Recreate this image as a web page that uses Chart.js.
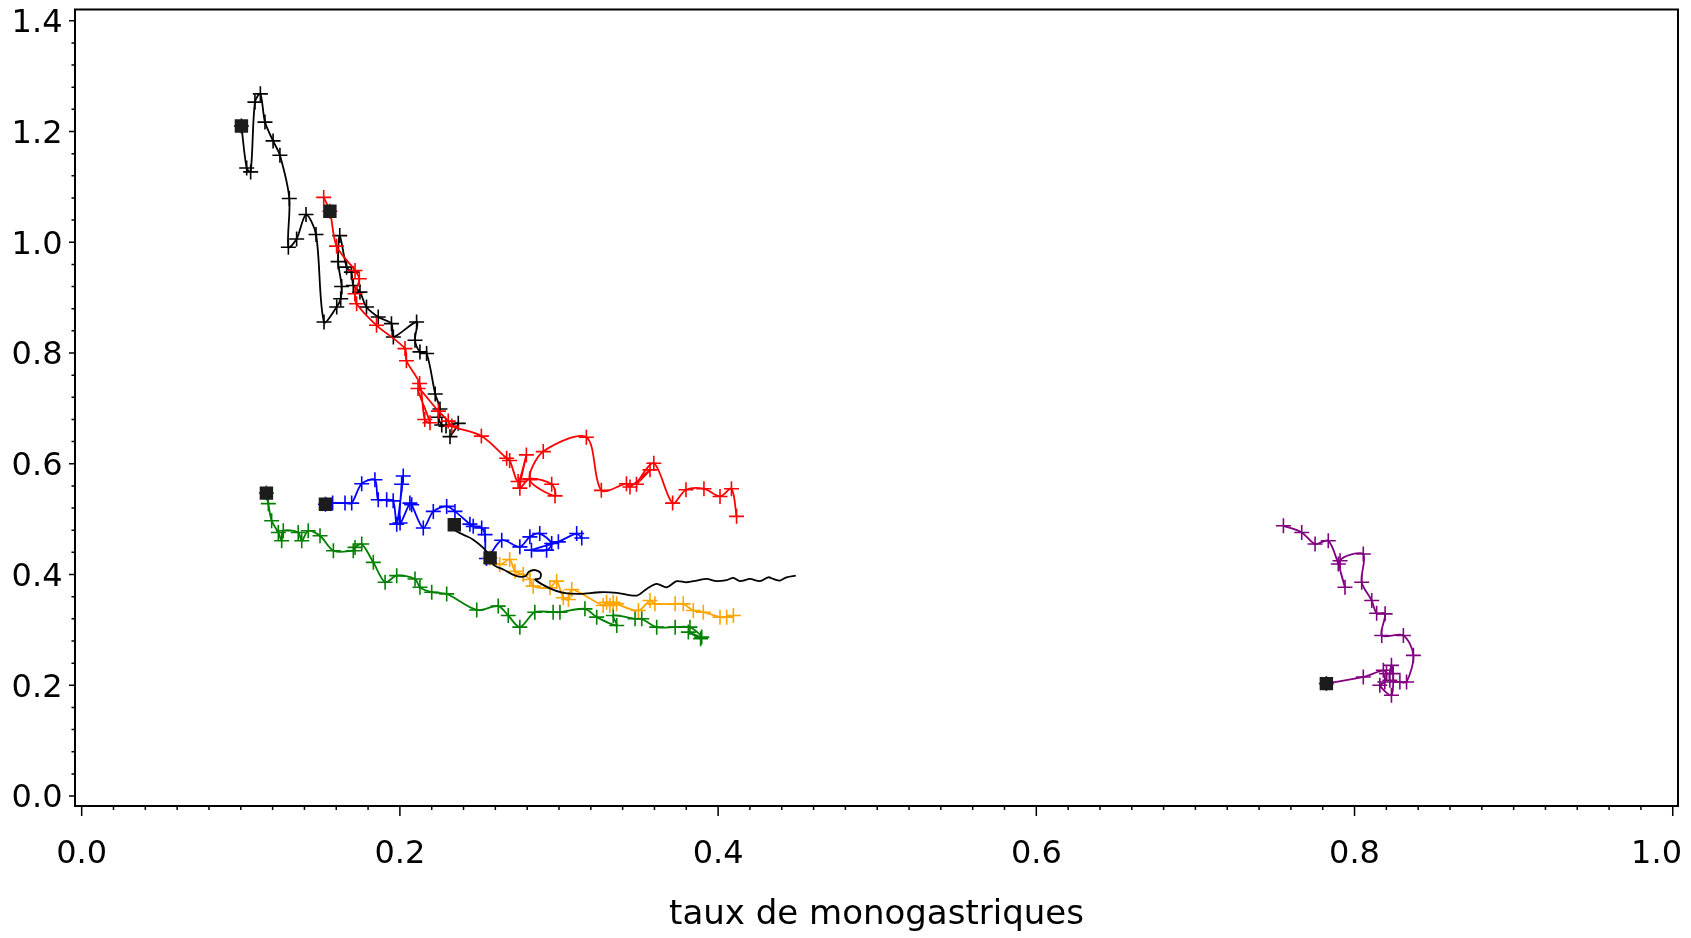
<!DOCTYPE html>
<html>
<head>
<meta charset="utf-8">
<script src="https://cdn.jsdelivr.net/npm/chart.js@4.4.1/dist/chart.umd.min.js"></script>
<style>
  html, body { margin: 0; padding: 0; background: #fff; }
</style>
</head>
<body>
<canvas id="trajChart" width="1691" height="938"></canvas>
<script>
// axes
const xTicks = [0, 0.2, 0.4, 0.6, 0.8, 1.0];
const yTicks = [0, 0.2, 0.4, 0.6, 0.8, 1.0, 1.2, 1.4];
const xTitle = 'taux de monogastriques';

// filled squares (start of each trajectory)
const startPoints = [
  [0.1004, 1.210], [0.1560, 1.056], [0.1161, 0.547], [0.1532, 0.527],
  [0.2342, 0.490], [0.2567, 0.430], [0.7823, 0.203]
];

const blackA = [
  [0.1004, 1.210], [0.1037, 1.134], [0.1062, 1.127], [0.1089, 1.253], [0.1123, 1.268],
  [0.1152, 1.217], [0.1203, 1.183], [0.1246, 1.157], [0.1305, 1.079], [0.1299, 0.991],
  [0.1351, 1.006], [0.1410, 1.050], [0.1473, 1.014], [0.1523, 0.856], [0.1603, 0.883],
  [0.1628, 0.898], [0.1634, 0.920], [0.1612, 0.965], [0.1622, 1.012], [0.1665, 0.955],
  [0.1695, 0.946], [0.1707, 0.922], [0.1749, 0.910], [0.1790, 0.883], [0.1864, 0.865],
  [0.1947, 0.853], [0.1959, 0.829], [0.2105, 0.856], [0.2095, 0.823], [0.2126, 0.802],
  [0.2168, 0.799], [0.2222, 0.726], [0.2252, 0.699], [0.2242, 0.684], [0.2263, 0.670],
  [0.2290, 0.668], [0.2367, 0.673], [0.2315, 0.649]
];

const red = [
  [0.1521, 1.081], [0.1560, 1.056], [0.1602, 0.993], [0.1718, 0.949], [0.1745, 0.934],
  [0.1718, 0.907], [0.1728, 0.889], [0.1853, 0.850], [0.2032, 0.808], [0.2041, 0.786],
  [0.2124, 0.745], [0.2156, 0.680], [0.2189, 0.674], [0.2114, 0.736], [0.2242, 0.695],
  [0.2304, 0.677], [0.2326, 0.668], [0.2512, 0.650], [0.2671, 0.610], [0.2690, 0.606],
  [0.2743, 0.568], [0.2795, 0.616], [0.2754, 0.556], [0.2816, 0.573], [0.2954, 0.563],
  [0.2975, 0.542], [0.2816, 0.571], [0.2901, 0.622], [0.3172, 0.648], [0.3266, 0.552],
  [0.3424, 0.564], [0.3446, 0.558], [0.3572, 0.589], [0.3487, 0.563], [0.3596, 0.601],
  [0.3714, 0.529], [0.3798, 0.553], [0.3911, 0.555], [0.4012, 0.541], [0.4084, 0.555],
  [0.4116, 0.505]
];

const blue = [
  [0.1532, 0.527], [0.1577, 0.529], [0.1655, 0.529], [0.1697, 0.529], [0.1760, 0.564],
  [0.1843, 0.571], [0.1864, 0.535], [0.1917, 0.535], [0.1958, 0.533], [0.1980, 0.491],
  [0.2021, 0.578], [0.2011, 0.563], [0.2001, 0.493], [0.2063, 0.529], [0.2074, 0.526],
  [0.2147, 0.484], [0.2210, 0.514], [0.2294, 0.523], [0.2346, 0.514], [0.2440, 0.491],
  [0.2461, 0.487], [0.2514, 0.484], [0.2535, 0.472], [0.2544, 0.429], [0.2640, 0.462],
  [0.2754, 0.450], [0.2817, 0.468], [0.2879, 0.474], [0.2954, 0.456], [0.2922, 0.444],
  [0.2827, 0.444], [0.2996, 0.459], [0.3111, 0.474], [0.3143, 0.466]
];

const green = [
  [0.1161, 0.547], [0.1173, 0.528], [0.1194, 0.497], [0.1236, 0.476], [0.1257, 0.461],
  [0.1267, 0.479], [0.1361, 0.476], [0.1383, 0.461], [0.1424, 0.479], [0.1498, 0.470],
  [0.1582, 0.443], [0.1707, 0.443], [0.1718, 0.449], [0.1760, 0.455], [0.1833, 0.422],
  [0.1907, 0.386], [0.1980, 0.398], [0.2095, 0.392], [0.2126, 0.377], [0.2200, 0.368],
  [0.2294, 0.365], [0.2483, 0.336], [0.2618, 0.343], [0.2681, 0.326], [0.2754, 0.305],
  [0.2848, 0.332], [0.2963, 0.332], [0.3006, 0.332], [0.3163, 0.338], [0.3237, 0.323],
  [0.3363, 0.308], [0.3341, 0.326], [0.3478, 0.320], [0.3520, 0.320], [0.3614, 0.305],
  [0.3730, 0.305], [0.3823, 0.305], [0.3897, 0.287], [0.3813, 0.296], [0.3890, 0.284]
];

const orange = [
  [0.2567, 0.430], [0.2627, 0.418], [0.2690, 0.427], [0.2723, 0.406], [0.2775, 0.400],
  [0.2817, 0.391], [0.2838, 0.379], [0.2943, 0.376], [0.2985, 0.388], [0.3027, 0.358],
  [0.3059, 0.355], [0.3080, 0.373], [0.3278, 0.344], [0.3299, 0.350], [0.3320, 0.344],
  [0.3341, 0.350], [0.3362, 0.347], [0.3499, 0.335], [0.3572, 0.353], [0.3603, 0.347],
  [0.3730, 0.347], [0.3781, 0.347], [0.3844, 0.335], [0.3907, 0.332], [0.4012, 0.323],
  [0.4054, 0.323], [0.4096, 0.326]
];

// black line without markers
const blackB = [
  [0.2342, 0.490], [0.2345, 0.480], [0.2398, 0.472], [0.2461, 0.463], [0.2524, 0.448],
  [0.2567, 0.433], [0.2587, 0.418], [0.2650, 0.409], [0.2734, 0.397], [0.2790, 0.397],
  [0.2810, 0.405], [0.2850, 0.408], [0.2885, 0.402], [0.2880, 0.393], [0.2850, 0.391],
  [0.2943, 0.375], [0.3027, 0.367], [0.3132, 0.365], [0.3258, 0.368], [0.3363, 0.367],
  [0.3488, 0.362], [0.3551, 0.374], [0.3614, 0.383], [0.3677, 0.377], [0.3739, 0.388],
  [0.3802, 0.386], [0.3865, 0.389], [0.3928, 0.392], [0.3991, 0.388], [0.4054, 0.390],
  [0.4096, 0.394], [0.4137, 0.388], [0.4200, 0.392], [0.4263, 0.388], [0.4315, 0.395],
  [0.4347, 0.392], [0.4388, 0.389], [0.4430, 0.395], [0.4488, 0.398]
];

const purple = [
  [0.7823, 0.203], [0.8055, 0.215], [0.8181, 0.227], [0.8201, 0.221], [0.8190, 0.206],
  [0.8159, 0.200], [0.8232, 0.182], [0.8243, 0.221], [0.8232, 0.236], [0.8222, 0.209],
  [0.8285, 0.206], [0.8327, 0.206], [0.8370, 0.254], [0.8307, 0.290], [0.8171, 0.290],
  [0.8192, 0.329], [0.8139, 0.330], [0.8108, 0.353], [0.8045, 0.386], [0.8055, 0.437],
  [0.7909, 0.425], [0.7940, 0.377], [0.7898, 0.419], [0.7835, 0.461], [0.7752, 0.455],
  [0.7668, 0.476], [0.7553, 0.488]
];

const FONT = 'DejaVu Sans';

function traj(data, color, marks) {
  return {
    data: data,
    showLine: true,
    borderColor: color,
    backgroundColor: color,
    borderWidth: 1.8,
    tension: 0.3,
    pointStyle: 'cross',
    pointRadius: marks ? 7.5 : 0,
    pointBorderWidth: 1.6,
    pointHoverRadius: marks ? 7.5 : 0
  };
}

// frame, tick marks and x tick labels (SAS style)
const sasAxes = {
  id: 'sasAxes',
  afterDraw(chart) {
    const { ctx, chartArea: a, scales: { x, y } } = chart;
    ctx.save();
    ctx.strokeStyle = '#000';
    ctx.lineWidth = 2;
    ctx.strokeRect(a.left, a.top, a.right - a.left, a.bottom - a.top);

    ctx.lineWidth = 1.5;
    ctx.beginPath();
    for (let i = 0; i <= 50; i++) {
      const px = x.getPixelForValue(i * 0.02);
      const len = i % 10 === 0 ? 10 : 4;
      ctx.moveTo(px, a.bottom);
      ctx.lineTo(px, a.bottom + len);
    }
    for (let i = 0; i <= 35; i++) {
      const py = y.getPixelForValue(i * 0.04);
      const len = i % 5 === 0 ? 6 : 3.5;
      ctx.moveTo(a.left, py);
      ctx.lineTo(a.left - len, py);
    }
    ctx.stroke();

    ctx.font = '32px "' + FONT + '"';
    ctx.fillStyle = '#000';
    ctx.textAlign = 'center';
    ctx.textBaseline = 'alphabetic';
    xTicks.forEach(v => {
      const label = v.toFixed(1);
      const w = ctx.measureText(label).width;
      const cx = Math.min(x.getPixelForValue(v), a.right + 4 - w / 2);
      ctx.fillText(label, cx, a.bottom + 57);
    });
    ctx.restore();
  }
};

new Chart(document.getElementById('trajChart'), {
  type: 'scatter',
  data: {
    datasets: [
      {
        data: startPoints,
        pointStyle: 'rect',
        pointRadius: 9.5,
        pointHoverRadius: 9.5,
        backgroundColor: '#1c1c1c',
        borderColor: '#1c1c1c',
        borderWidth: 0
      },
      traj(blackB, '#000000', false),
      traj(red, '#ff0000', true),
      traj(blackA, '#000000', true),
      traj(orange, '#ffa500', true),
      traj(blue, '#0000ff', true),
      traj(green, '#008000', true),
      traj(purple, '#800080', true)
    ]
  },
  options: {
    responsive: false,
    animation: false,
    devicePixelRatio: 1,
    events: [],
    layout: { padding: { left: 0, top: 7, right: 13, bottom: 0 } },
    plugins: { legend: { display: false }, tooltip: { enabled: false } },
    scales: {
      x: {
        type: 'linear',
        min: -0.0042,
        max: 1.0033,
        afterBuildTicks: s => { s.ticks = xTicks.map(v => ({ value: v })); },
        afterFit: s => { s.height = 132; s.paddingLeft = 0; s.paddingRight = 0; },
        grid: { display: false, drawTicks: false },
        border: { display: false },
        ticks: { display: false },
        title: {
          display: true,
          text: xTitle,
          color: '#000',
          font: { family: FONT, size: 34 },
          padding: { top: 0, bottom: 2 }
        }
      },
      y: {
        type: 'linear',
        min: -0.018,
        max: 1.4203,
        afterBuildTicks: s => { s.ticks = yTicks.map(v => ({ value: v })); },
        afterFit: s => { s.width = 75; s.paddingTop = 0; s.paddingBottom = 0; },
        grid: { display: false, drawTicks: false },
        border: { display: false },
        ticks: {
          color: '#000',
          font: { family: FONT, size: 32 },
          padding: 12.5,
          labelOffset: 3,
          callback: v => Number(v).toFixed(1)
        }
      }
    }
  },
  plugins: [sasAxes]
});
</script>
</body>
</html>
